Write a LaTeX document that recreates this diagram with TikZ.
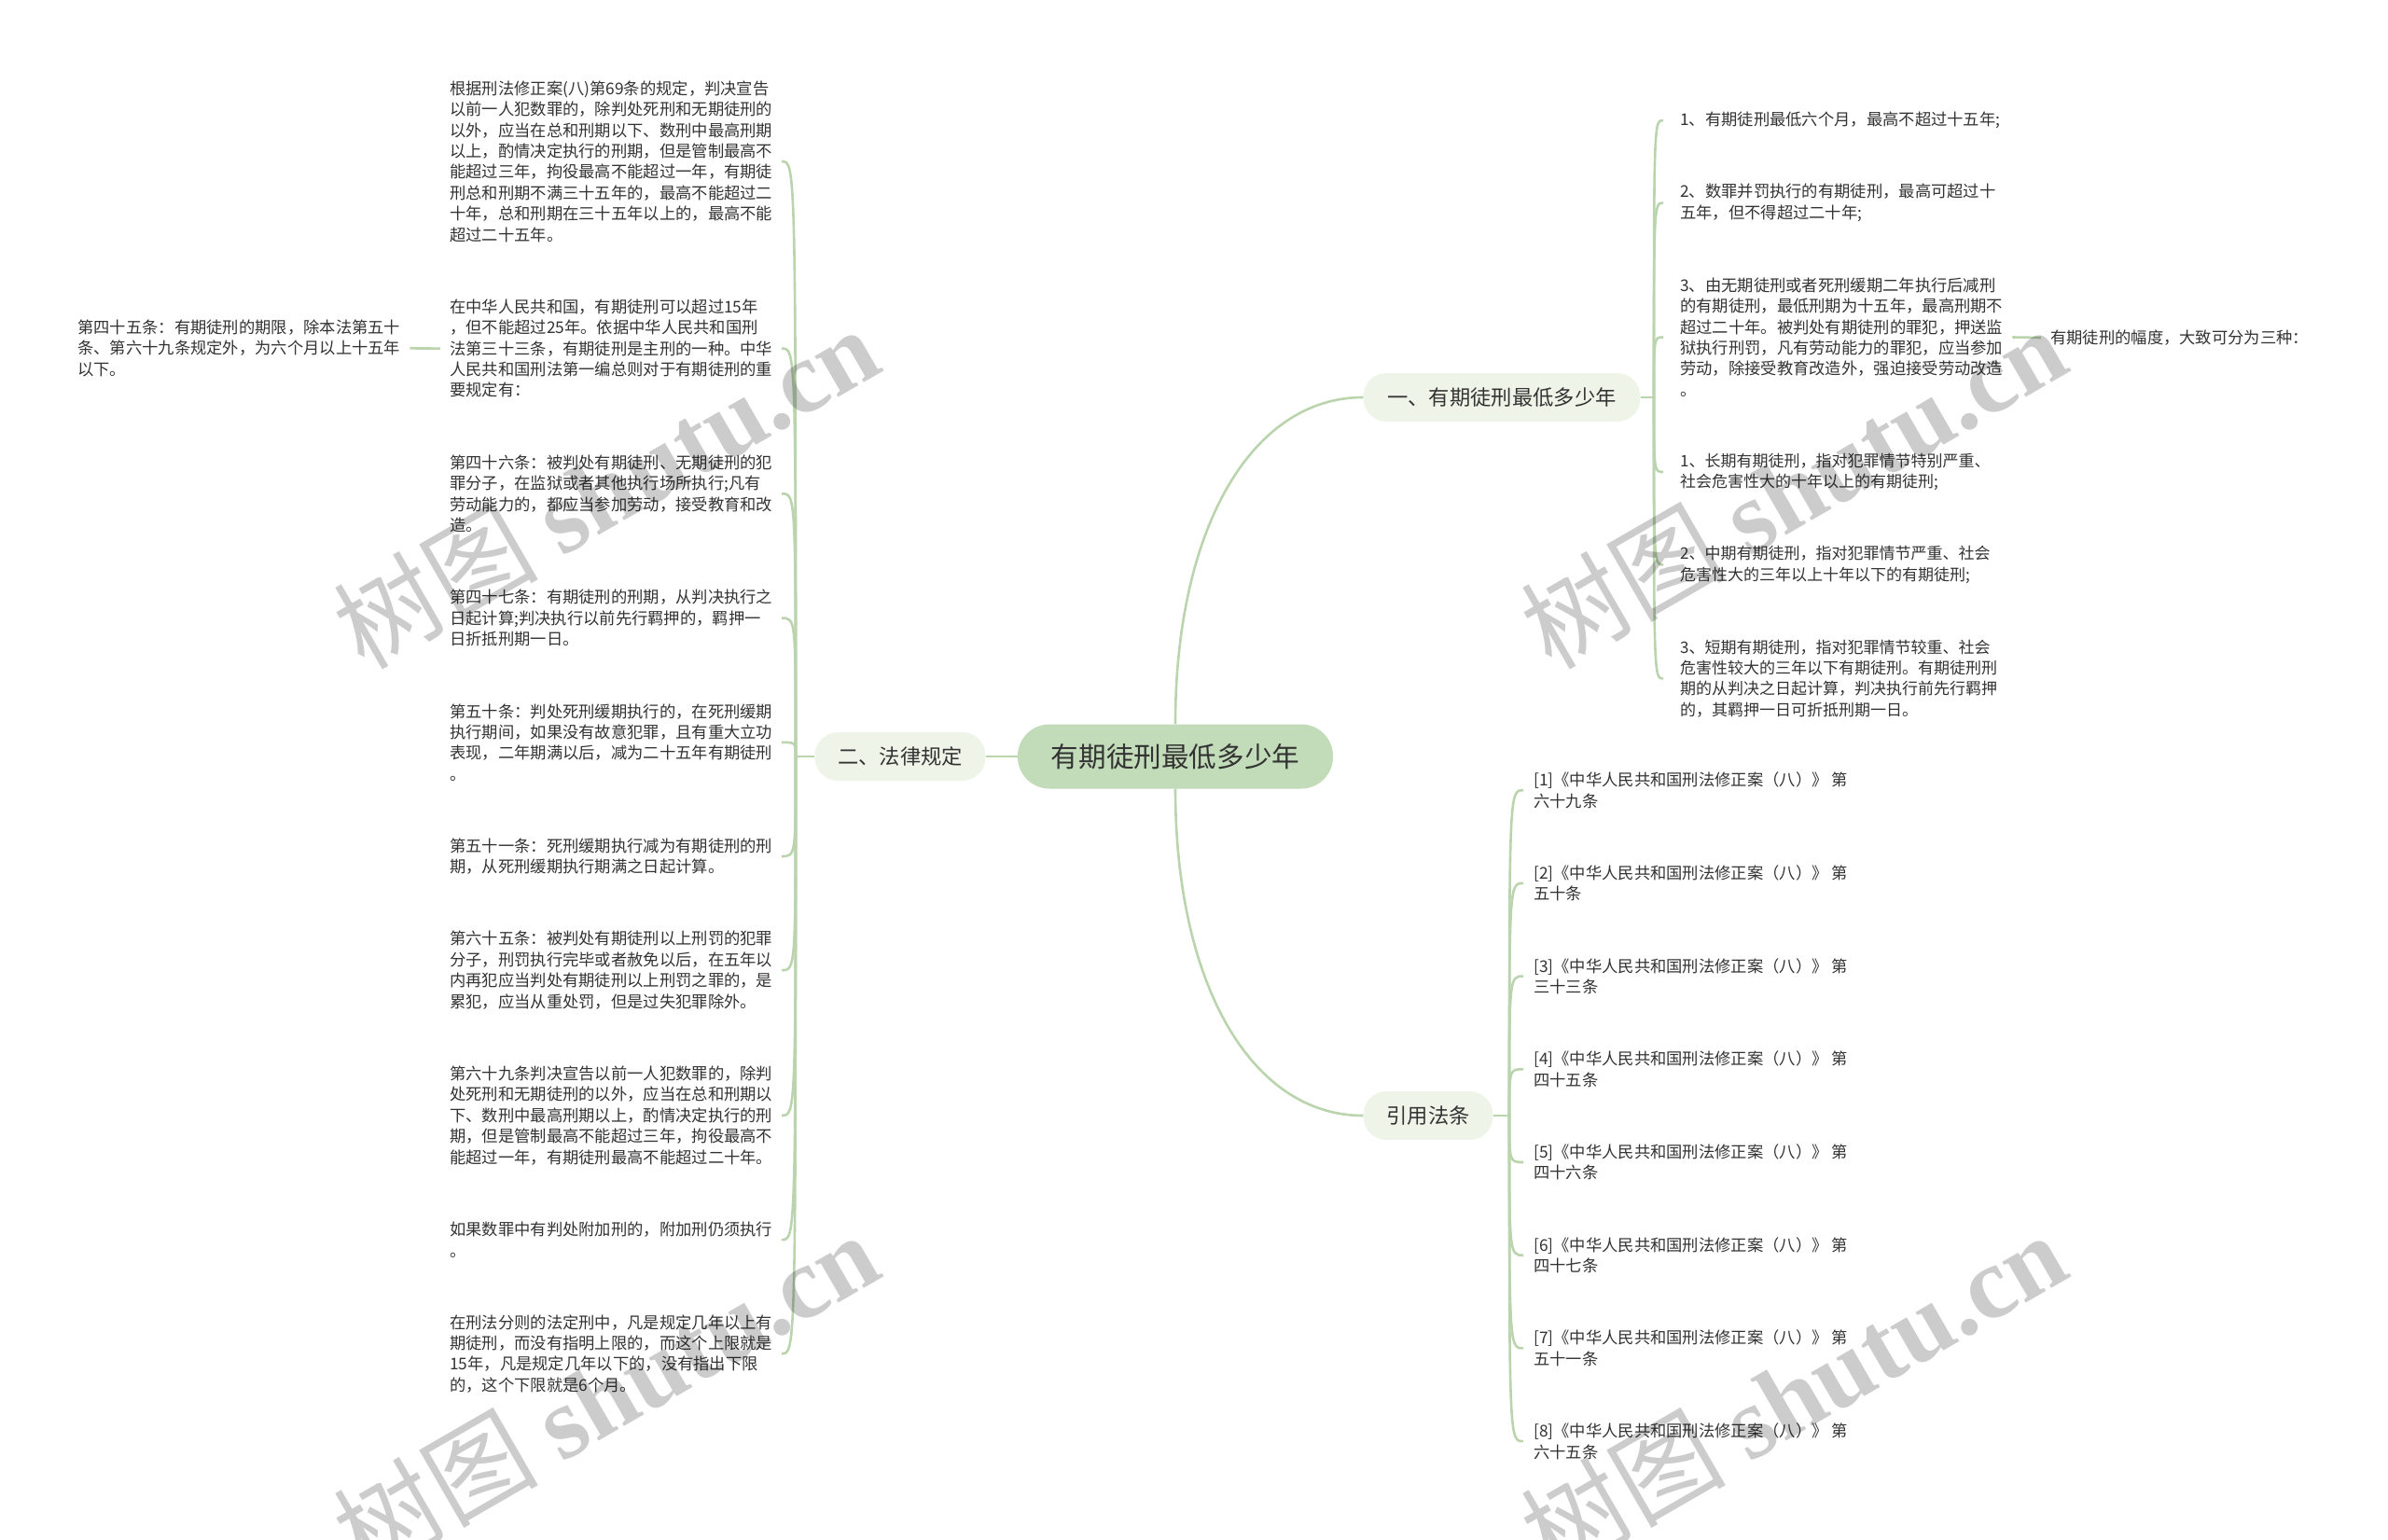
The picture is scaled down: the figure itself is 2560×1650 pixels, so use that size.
\documentclass[tikz,border=0pt]{standalone}
\usepackage{fontspec}
\setmainfont{Noto Sans CJK SC}
\newfontfamily\wmserif{Liberation Serif}
\definecolor{linecol}{RGB}{186,212,174}
\definecolor{rootfill}{RGB}{194,219,184}
\definecolor{branchfill}{RGB}{238,245,232}
\definecolor{textcol}{RGB}{51,51,51}
\tikzset{
  conn/.style={draw=linecol, line width=2.6pt},
  leaf/.style={anchor=west, inner sep=0pt, align=left, text=textcol, font=\fontsize{17.3}{22.4}\selectfont},
  leafn/.style={leaf, font=\fontsize{17.0}{22.4}\selectfont},
  branchbox/.style={fill=branchfill, rounded corners=25pt, minimum height=52pt, inner sep=0pt, text=textcol, font=\fontsize{22.3}{26}\selectfont},
  rootbox/.style={fill=rootfill, rounded corners=34pt, minimum height=69pt, minimum width=338pt, inner sep=0pt, text=textcol, font=\fontsize{29.6}{34}\selectfont},
  wm/.style={text=black, text opacity=0.2, inner sep=0pt, rotate=30, font=\fontsize{110}{120}\selectfont}
}
\begin{document}
\begin{tikzpicture}[x=1pt,y=-1pt]
\useasboundingbox (0,0) rectangle (2560,1650);
\fill[white] (0,0) rectangle (2560,1650);

% main nodes
\node[rootbox] (root) at (1260,811) {有期徒刑最低多少年};
\node[branchbox, minimum width=297pt] (b1) at (1610,426) {一、有期徒刑最低多少年};
\node[branchbox, minimum width=183pt] (b2) at (965,811) {二、法律规定};
\node[branchbox, minimum width=139pt] (b3) at (1531,1196) {引用法条};

% left column (二、法律规定)
\node[leaf] (a1) at (482,173.1) {根据刑法修正案(八)第69条的规定，判决宣告\\以前一人犯数罪的，除判处死刑和无期徒刑的\\以外，应当在总和刑期以下、数刑中最高刑期\\以上，酌情决定执行的刑期，但是管制最高不\\能超过三年，拘役最高不能超过一年，有期徒\\刑总和刑期不满三十五年的，最高不能超过二\\十年，总和刑期在三十五年以上的，最高不能\\超过二十五年。};
\node[leaf] (a2) at (482,373.6) {在中华人民共和国，有期徒刑可以超过15年\\，但不能超过25年。依据中华人民共和国刑\\法第三十三条，有期徒刑是主刑的一种。中华\\人民共和国刑法第一编总则对于有期徒刑的重\\要规定有：};
\node[leaf] (a45) at (83,373.4) {第四十五条：有期徒刑的期限，除本法第五十\\条、第六十九条规定外，为六个月以上十五年\\以下。};
\node[leaf] (a3) at (482,529.3) {第四十六条：被判处有期徒刑、无期徒刑的犯\\罪分子，在监狱或者其他执行场所执行;凡有\\劳动能力的，都应当参加劳动，接受教育和改\\造。};
\node[leaf] (a4) at (482,662.6) {第四十七条：有期徒刑的刑期，从判决执行之\\日起计算;判决执行以前先行羁押的，羁押一\\日折抵刑期一日。};
\node[leaf] (a5) at (482,795.9) {第五十条：判处死刑缓期执行的，在死刑缓期\\执行期间，如果没有故意犯罪，且有重大立功\\表现，二年期满以后，减为二十五年有期徒刑\\。};
\node[leaf] (a6) at (482,918.0) {第五十一条：死刑缓期执行减为有期徒刑的刑\\期，从死刑缓期执行期满之日起计算。};
\node[leaf] (a7) at (482,1040.1) {第六十五条：被判处有期徒刑以上刑罚的犯罪\\分子，刑罚执行完毕或者赦免以后，在五年以\\内再犯应当判处有期徒刑以上刑罚之罪的，是\\累犯，应当从重处罚，但是过失犯罪除外。};
\node[leaf] (a8) at (482,1195.8) {第六十九条判决宣告以前一人犯数罪的，除判\\处死刑和无期徒刑的以外，应当在总和刑期以\\下、数刑中最高刑期以上，酌情决定执行的刑\\期，但是管制最高不能超过三年，拘役最高不\\能超过一年，有期徒刑最高不能超过二十年。};
\node[leaf] (a9) at (482,1329.1) {如果数罪中有判处附加刑的，附加刑仍须执行\\。};
\node[leaf] (a10) at (482,1451.2) {在刑法分则的法定刑中，凡是规定几年以上有\\期徒刑，而没有指明上限的，而这个上限就是\\15年，凡是规定几年以下的，没有指出下限\\的，这个下限就是6个月。};

% right column (一、有期徒刑最低多少年)
\node[leaf] (r1) at (1801,129) {1、有期徒刑最低六个月，最高不超过十五年;};
\node[leaf] (r2) at (1801,217.5) {2、数罪并罚执行的有期徒刑，最高可超过十\\五年，但不得超过二十年;};
\node[leaf] (r3) at (1801,361.5) {3、由无期徒刑或者死刑缓期二年执行后减刑\\的有期徒刑，最低刑期为十五年，最高刑期不\\超过二十年。被判处有期徒刑的罪犯，押送监\\狱执行刑罚，凡有劳动能力的罪犯，应当参加\\劳动，除接受教育改造外，强迫接受劳动改造\\。};
\node[leafn] (r4) at (1801,506) {1、长期有期徒刑，指对犯罪情节特别严重、\\社会危害性大的十年以上的有期徒刑;};
\node[leafn] (r5) at (1801,605.5) {2、中期有期徒刑，指对犯罪情节严重、社会\\危害性大的三年以上十年以下的有期徒刑;};
\node[leafn] (r6) at (1801,727.5) {3、短期有期徒刑，指对犯罪情节较重、社会\\危害性较大的三年以下有期徒刑。有期徒刑刑\\期的从判决之日起计算，判决执行前先行羁押\\的，其羁押一日可折抵刑期一日。};
\node[leaf] (fd) at (2198,362) {有期徒刑的幅度，大致可分为三种：};

% references (引用法条)
\node[leaf] (c1) at (1644,847.2) {[1]《中华人民共和国刑法修正案（八）》 第\\六十九条};
\node[leaf] (c2) at (1644,946.9) {[2]《中华人民共和国刑法修正案（八）》 第\\五十条};
\node[leaf] (c3) at (1644,1046.6) {[3]《中华人民共和国刑法修正案（八）》 第\\三十三条};
\node[leaf] (c4) at (1644,1146.3) {[4]《中华人民共和国刑法修正案（八）》 第\\四十五条};
\node[leaf] (c5) at (1644,1246.0) {[5]《中华人民共和国刑法修正案（八）》 第\\四十六条};
\node[leaf] (c6) at (1644,1345.7) {[6]《中华人民共和国刑法修正案（八）》 第\\四十七条};
\node[leaf] (c7) at (1644,1445.4) {[7]《中华人民共和国刑法修正案（八）》 第\\五十一条};
\node[leaf] (c8) at (1644,1545.1) {[8]《中华人民共和国刑法修正案（八）》 第\\六十五条};

% spine coordinates
\coordinate (s1) at (1773,426);
\coordinate (e1) at (1783,0);
\coordinate (s2) at (853,811);
\coordinate (e2) at (838,0);
\coordinate (s3) at (1618,1196);
\coordinate (e3) at (1633,0);

% root connectors
\draw[conn] (root.north) .. controls (1260,566) and (1342,426) .. (b1.west);
\draw[conn] (root.south) .. controls (1260,1056) and (1342,1196) .. (b3.west);
\draw[conn] (root.west) -- (b2.east);

% branch stubs
\draw[conn] (b1.east) -- (s1);
\draw[conn] (b2.west) -- (s2);
\draw[conn] (b3.east) -- (s3);

% child connectors
\foreach \c in {r1,r2,r3,r4,r5,r6}
  \draw[conn] (s1) .. controls (s1 |- \c) and (s1 |- \c) .. (\c -| e1);
\foreach \c in {a1,a2,a3,a4,a5,a6,a7,a8,a9,a10}
  \draw[conn] (s2) .. controls (s2 |- \c) and (s2 |- \c) .. (\c -| e2);
\foreach \c in {c1,c2,c3,c4,c5,c6,c7,c8}
  \draw[conn] (s3) .. controls (s3 |- \c) and (s3 |- \c) .. (\c -| e3);
\draw[conn] ([xshift=-10pt]a2.west) -- ([xshift=10pt]a45.east);
\draw[conn] ([xshift=10pt]r3.east) -- ([xshift=-10pt]fd.west);

% watermarks
\node[wm] (w1) at (649,522) {树图 {\wmserif\bfseries shutu.cn}};
\node[wm] (w2) at (1922,522) {树图 {\wmserif\bfseries shutu.cn}};
\node[wm] (w3) at (649,1493) {树图 {\wmserif\bfseries shutu.cn}};
\node[wm] (w4) at (1922,1493) {树图 {\wmserif\bfseries shutu.cn}};
\end{tikzpicture}
\end{document}
